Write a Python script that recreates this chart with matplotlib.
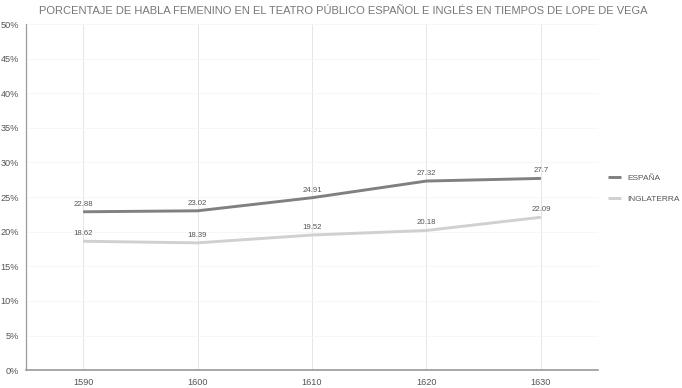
import numpy as np
import matplotlib
matplotlib.use("Agg")
import matplotlib.pyplot as plt
from matplotlib.ticker import FuncFormatter

# data
years = ["1590", "1600", "1610", "1620", "1630"]
espana = [22.88, 23.02, 24.91, 27.32, 27.7]
inglaterra = [18.62, 18.39, 19.52, 20.18, 22.09]
y_ticks = [0, 5, 10, 15, 20, 25, 30, 35, 40, 45, 50]

title = "PORCENTAJE DE HABLA FEMENINO EN EL TEATRO PÚBLICO ESPAÑOL E INGLÉS EN TIEMPOS DE LOPE DE VEGA"

plt.rcParams['font.family'] = ['Liberation Sans', 'DejaVu Sans']

fig = plt.figure(figsize=(6.82, 3.88), dpi=100)
ax = fig.add_axes([0.038, 0.046, 0.839, 0.892])

x = np.arange(len(years))
ax.plot(x, espana, color="#808080", lw=2.1, label="ESPAÑA", solid_capstyle="butt", zorder=3)
ax.plot(x, inglaterra, color="#d0d0d0", lw=2.1, label="INGLATERRA", solid_capstyle="butt", zorder=3)

# data labels
for xi, v in zip(x, espana):
    ax.annotate(f"{v:g}", (xi, v), xytext=(0, 3), textcoords="offset points",
                ha="center", va="bottom", fontsize=5.6, color="#555555")
for xi, v in zip(x, inglaterra):
    ax.annotate(f"{v:g}", (xi, v), xytext=(0, 3), textcoords="offset points",
                ha="center", va="bottom", fontsize=5.6, color="#555555")

ax.set_xlim(-0.5, 4.5)
ax.set_ylim(0, 50)
ax.set_xticks(x)
ax.set_xticklabels(years)
ax.set_yticks(y_ticks)
ax.yaxis.set_major_formatter(FuncFormatter(lambda v, pos=None: f"{v:.0f}%"))
ax.tick_params(axis="both", length=0, labelsize=6.6, colors="#555555")
ax.tick_params(axis="x", pad=6)
ax.tick_params(axis="y", pad=5)

ax.grid(axis="x", color="#e2e2e2", lw=0.6)
ax.grid(axis="y", color="#f6f6f6", lw=0.6)
ax.set_axisbelow(True)

for s in ["top", "right"]:
    ax.spines[s].set_visible(False)
ax.spines["left"].set_color("#9a9a9a")
ax.spines["left"].set_linewidth(0.9)
ax.spines["bottom"].set_color("#9a9a9a")
ax.spines["bottom"].set_linewidth(1.2)

fig.text(0.503, 0.972, title, ha="center", va="center", fontsize=8, color="#777777")

leg = ax.legend(loc="center left", bbox_to_anchor=(1.005, 0.524), frameon=False,
                fontsize=6, handlelength=1.5, labelspacing=1.6, handletextpad=0.8)
for t in leg.get_texts():
    t.set_color("#555555")

fig.savefig("out.png", dpi=100)
